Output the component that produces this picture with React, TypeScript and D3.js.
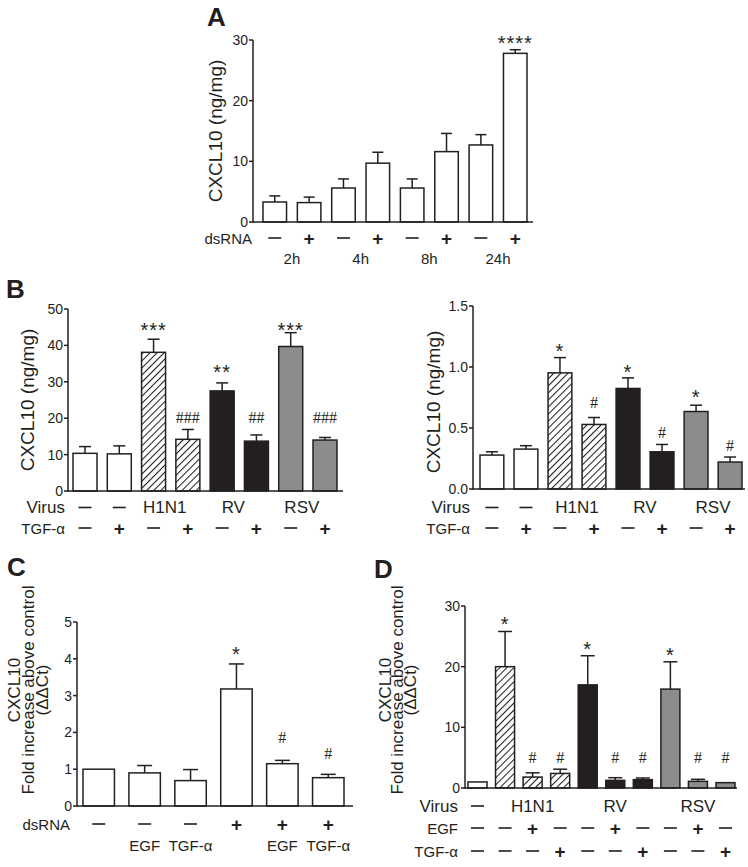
import React from "react";
import * as d3 from "d3";

const FONT = '"Liberation Sans", Arial, Helvetica, sans-serif';
const SERIF = '"Liberation Serif", "Times New Roman", serif';
const INK = "#231f20";
const GRAY = "#8c8c8c";

// ---------- Panel A ----------
const aMeans = [3.3, 3.2, 5.6, 9.7, 5.6, 11.6, 12.7, 27.8];
const aUpper = [4.3, 4.1, 7.1, 11.5, 7.1, 14.6, 14.4, 28.4];
const aFills = ["open", "open", "open", "open", "open", "open", "open", "open"];
const aMarks = ["", "", "", "", "", "", "", "****"];
const aMarkAt = [0, 0, 0, 0, 0, 0, 0, 30.3];
const aDsRNA = ["—", "+", "—", "+", "—", "+", "—", "+"];
const aTime = ["2h", "2h", "4h", "4h", "8h", "8h", "24h", "24h"];
const aTicks = [0, 10, 20, 30];

// ---------- Panel B (left, ng/mg) ----------
const bLMeans = [10.35, 10.2, 38.1, 14.2, 27.5, 13.7, 39.7, 14.0];
const bLUpper = [12.2, 12.4, 41.7, 16.9, 29.7, 15.4, 43.5, 14.7];
const bFills = ["open", "open", "hatch", "hatch", "black", "black", "gray", "gray"];
const bLMarks = ["", "", "***", "###", "**", "##", "***", "###"];
const bLMarkAt = [0, 0, 45.6, 20.3, 33.8, 20.3, 45.6, 20.3];
const bLTicks = [0, 10, 20, 30, 40, 50];

// ---------- Panel B (right, ng/mg) ----------
const bRMeans = [0.278, 0.327, 0.952, 0.529, 0.824, 0.305, 0.635, 0.221];
const bRUpper = [0.305, 0.355, 1.077, 0.586, 0.911, 0.365, 0.687, 0.262];
const bRMarks = ["", "", "*", "#", "*", "#", "*", "#"];
const bRMarkAt = [0, 0, 1.164, 0.705, 1.0, 0.467, 0.787, 0.36];
const bRTicks = [0, 0.5, 1.0, 1.5];

const bVirus = ["—", "—", "H1N1", "H1N1", "RV", "RV", "RSV", "RSV"];
const bTGF = ["—", "+", "—", "+", "—", "+", "—", "+"];

// ---------- Panel C ----------
const cMeans = [1.0, 0.9, 0.69, 3.18, 1.15, 0.77];
const cUpper = [1.0, 1.1, 0.99, 3.86, 1.24, 0.86];
const cFills = ["open", "open", "open", "open", "open", "open"];
const cMarks = ["", "", "", "*", "#", "#"];
const cMarkAt = [0, 0, 0, 4.24, 1.875, 1.44];
const cDsRNA = ["—", "—", "—", "+", "+", "+"];
const cTreat = ["", "EGF", "TGF-α", "", "EGF", "TGF-α"];
const cTicks = [0, 1, 2, 3, 4, 5];

// ---------- Panel D ----------
const dMeans = [1.0, 20.0, 1.8, 2.4, 17.0, 1.26, 1.37, 16.3, 1.1, 0.88];
const dUpper = [1.0, 25.8, 2.5, 3.1, 21.8, 1.7, 1.65, 20.8, 1.43, 0.99];
const dFills = ["open", "hatch", "hatch", "hatch", "black", "black", "black", "gray", "gray", "gray"];
const dMarks = ["", "*", "#", "#", "*", "#", "#", "*", "#", "#"];
const dMarkAt = [0, 27.7, 5.1, 5.1, 23.6, 5.1, 5.1, 22.7, 5.1, 5.1];
const dVirus = ["—", "H1N1", "H1N1", "H1N1", "RV", "RV", "RV", "RSV", "RSV", "RSV"];
const dEGF = ["—", "—", "+", "—", "—", "+", "—", "—", "+", "—"];
const dTGF = ["—", "—", "—", "+", "—", "—", "+", "—", "—", "+"];
const dTicks = [0, 10, 20, 30];

const ylabNg = ["CXCL10 (ng/mg)"];
const ylabFold = ["CXCL10", "Fold increase above control", "(ΔΔCt)"];

type Row = { label: string; items: string[]; y: number; size?: number };

type Spec = {
  letter: string;
  letterX: number;
  letterY: number;
  means: number[];
  upper: number[];
  fills: string[];
  marks: string[];
  markAt: number[];
  yMax: number;
  ticks: number[];
  fmt: (v: number) => string;
  axisX: [number, number];
  band: [number, number];
  yPx: [number, number];
  padInner: number;
  cap: number;
  yLabel: string[];
  yLabelX: number[];
  yLabelY: number;
  yLabelSize: number;
  rows: Row[];
  rowLabelX: number;
  groupDx?: number;
};

const isSign = (s: string) => s === "—" || s === "+";

function Panel({ s }: { s: Spec }) {
  const n = s.means.length;
  const x = d3.scaleBand<number>().domain(d3.range(n)).range(s.band).paddingInner(s.padInner).paddingOuter(0);
  const y = d3.scaleLinear().domain([0, s.yMax]).range(s.yPx);
  const bw = x.bandwidth();
  const cx = (i: number) => (x(i) as number) + bw / 2;
  const y0 = y(0);
  const ax = s.axisX[0];

  const rowEls: React.ReactNode[] = [];
  s.rows.forEach((r, ri) => {
    if (r.label) {
      rowEls.push(
        <text key={`rl${ri}`} x={s.rowLabelX} y={r.y} textAnchor="end" dominantBaseline="central"
          fontSize={r.size ?? 16} fontFamily={FONT} fill={INK}>{r.label}</text>
      );
    }
    let i = 0;
    while (i < n) {
      const it = r.items[i];
      if (!it) { i++; continue; }
      if (isSign(it)) {
        rowEls.push(
          it === "+" ? (
            <text key={`s${ri}-${i}`} x={cx(i)} y={r.y} textAnchor="middle" dominantBaseline="central"
              fontSize={19} fontWeight="bold" fontFamily={FONT} fill={INK}>+</text>
          ) : (
            <line key={`s${ri}-${i}`} x1={cx(i) - 6.5} x2={cx(i) + 6.5} y1={r.y} y2={r.y} stroke={INK} strokeWidth={1.6} />
          )
        );
        i++;
      } else {
        let j = i;
        while (j + 1 < n && r.items[j + 1] === it) j++;
        const mid = (cx(i) + cx(j)) / 2 + (j > i ? s.groupDx ?? 0 : 0);
        rowEls.push(
          <text key={`g${ri}-${i}`} x={mid} y={r.y} textAnchor="middle" dominantBaseline="central"
            fontSize={r.size ?? 16} fontFamily={FONT} fill={INK}>{it}</text>
        );
        i = j + 1;
      }
    }
  });

  return (
    <g>
      <text x={s.letterX} y={s.letterY} fontSize={26} fontWeight="bold" fontFamily={FONT} fill={INK}>{s.letter}</text>
      {s.yLabel.map((t, k) => (
        <text key={`yl${k}`} transform={`translate(${s.yLabelX[k]},${s.yLabelY}) rotate(-90)`}
          textAnchor="middle" dominantBaseline="central" fontSize={s.yLabelSize} fontFamily={FONT} fill={INK}>{t}</text>
      ))}
      {s.means.map((m, i) => {
        const f = s.fills[i];
        const top = y(m);
        const fill = f === "black" ? INK : f === "gray" ? GRAY : "#fff";
        return (
          <g key={`b${i}`}>
            <rect x={x(i)} y={top} width={bw} height={y0 - top} fill={fill} />
            {f === "hatch" && <rect x={x(i)} y={top} width={bw} height={y0 - top} fill="url(#hatch)" />}
            <rect x={x(i)} y={top} width={bw} height={y0 - top} fill="none" stroke={INK} strokeWidth={1.5} />
            {s.upper[i] - m > s.yMax * 0.004 && (
              <g stroke={INK} strokeWidth={1.5}>
                <line x1={cx(i)} x2={cx(i)} y1={top} y2={y(s.upper[i])} />
                <line x1={cx(i) - s.cap / 2} x2={cx(i) + s.cap / 2} y1={y(s.upper[i])} y2={y(s.upper[i])} />
              </g>
            )}
            {s.marks[i] && (
              s.marks[i][0] === "*" ? (
                <text x={cx(i)} y={y(s.markAt[i]) + 11.5} textAnchor="middle" fontSize={20}
                  letterSpacing={1} fontFamily={FONT} fill={INK}>{s.marks[i]}</text>
              ) : (
                <text x={cx(i)} y={y(s.markAt[i]) + 5.5} textAnchor="middle" fontSize={16}
                  fontFamily={SERIF} fill={INK}>{s.marks[i]}</text>
              )
            )}
          </g>
        );
      })}
      <line x1={ax} x2={ax} y1={y0 + 0.75} y2={y(s.yMax)} stroke={INK} strokeWidth={1.5} />
      <line x1={ax} x2={s.axisX[1]} y1={y0} y2={y0} stroke={INK} strokeWidth={1.5} />
      {s.ticks.map((t) => (
        <g key={`t${t}`}>
          <line x1={ax - 4} x2={ax} y1={y(t)} y2={y(t)} stroke={INK} strokeWidth={1.5} />
          <text x={ax - 5} y={y(t)} textAnchor="end" dominantBaseline="central" fontSize={14}
            fontFamily={FONT} fill={INK}>{s.fmt(t)}</text>
        </g>
      ))}
      {rowEls}
    </g>
  );
}

const intFmt = d3.format("d");
const oneFmt = d3.format(".1f");

const specs: Spec[] = [
  {
    letter: "A", letterX: 207, letterY: 26,
    means: aMeans, upper: aUpper, fills: aFills, marks: aMarks, markAt: aMarkAt,
    yMax: 30, ticks: aTicks, fmt: intFmt,
    axisX: [253, 533], band: [263, 527], yPx: [222, 40], padInner: 0.315, cap: 11,
    yLabel: ylabNg, yLabelX: [215], yLabelY: 131, yLabelSize: 19,
    rows: [
      { label: "dsRNA", items: aDsRNA, y: 238, size: 15 },
      { label: "", items: aTime, y: 258, size: 15 },
    ],
    rowLabelX: 252,
  },
  {
    letter: "B", letterX: 6, letterY: 298,
    means: bLMeans, upper: bLUpper, fills: bFills, marks: bLMarks, markAt: bLMarkAt,
    yMax: 50, ticks: bLTicks, fmt: intFmt,
    axisX: [68, 343], band: [73, 337], yPx: [491, 309], padInner: 0.3, cap: 12,
    yLabel: ylabNg, yLabelX: [27], yLabelY: 400, yLabelSize: 19,
    rows: [
      { label: "Virus", items: bVirus, y: 507.5, size: 17 },
      { label: "TGF-α", items: bTGF, y: 528, size: 15 },
    ],
    rowLabelX: 65, groupDx: -6,
  },
  {
    letter: "", letterX: 0, letterY: 0,
    means: bRMeans, upper: bRUpper, fills: bFills, marks: bRMarks, markAt: bRMarkAt,
    yMax: 1.5, ticks: bRTicks, fmt: oneFmt,
    axisX: [473, 745], band: [480, 742], yPx: [489, 306], padInner: 0.3, cap: 12,
    yLabel: ylabNg, yLabelX: [433], yLabelY: 402, yLabelSize: 19,
    rows: [
      { label: "Virus", items: bVirus, y: 507.5, size: 17 },
      { label: "TGF-α", items: bTGF, y: 528, size: 15 },
    ],
    rowLabelX: 470,
  },
  {
    letter: "C", letterX: 7, letterY: 576,
    means: cMeans, upper: cUpper, fills: cFills, marks: cMarks, markAt: cMarkAt,
    yMax: 5, ticks: cTicks, fmt: intFmt,
    axisX: [77, 353], band: [83, 344], yPx: [806, 622], padInner: 0.315, cap: 15,
    yLabel: ylabFold, yLabelX: [14, 28, 42], yLabelY: 690, yLabelSize: 17,
    rows: [
      { label: "dsRNA", items: cDsRNA, y: 824, size: 15 },
      { label: "", items: cTreat, y: 845, size: 15 },
    ],
    rowLabelX: 70,
  },
  {
    letter: "D", letterX: 374, letterY: 578,
    means: dMeans, upper: dUpper, fills: dFills, marks: dMarks, markAt: dMarkAt,
    yMax: 30, ticks: dTicks, fmt: intFmt,
    axisX: [465, 737], band: [468, 735], yPx: [788, 606], padInner: 0.31, cap: 14,
    yLabel: ylabFold, yLabelX: [385, 397.5, 410], yLabelY: 690, yLabelSize: 17,
    rows: [
      { label: "Virus", items: dVirus, y: 806, size: 17 },
      { label: "EGF", items: dEGF, y: 828, size: 15 },
      { label: "TGF-α", items: dTGF, y: 851, size: 15 },
    ],
    rowLabelX: 458,
  },
];

export default function App() {
  return (
    <svg width={748} height={867} style={{ position: "absolute", left: 0, top: 0, background: "#fff" }}>
      <defs>
        <pattern id="hatch" patternUnits="userSpaceOnUse" width={5} height={10} patternTransform="rotate(45)">
          <line x1={0} y1={0} x2={0} y2={10} stroke={INK} strokeWidth={2.1} />
        </pattern>
      </defs>
      <rect width={748} height={867} fill="#fff" />
      {specs.map((s, k) => (
        <Panel key={k} s={s} />
      ))}
    </svg>
  );
}
